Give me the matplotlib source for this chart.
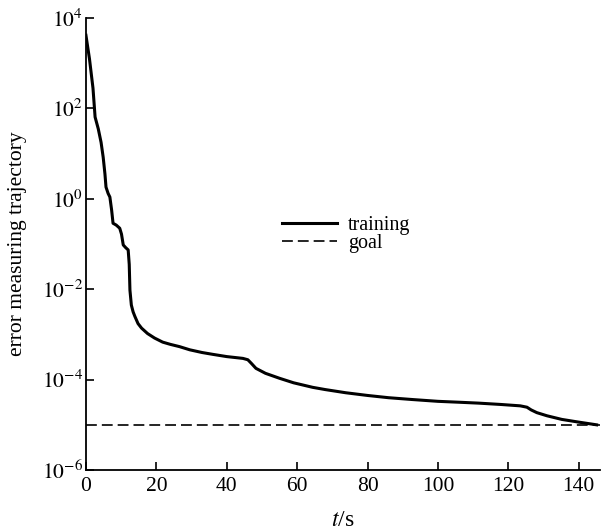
import matplotlib
matplotlib.use("Agg")
import matplotlib.pyplot as plt
import numpy as np

t = [0.0, 1.0, 2.0, 2.6, 3.5, 4.3, 4.9, 5.4, 5.7, 6.3, 6.8, 7.3, 7.7, 8.6, 9.6, 10.1, 10.6, 11.3, 12.0,
     12.3, 12.5, 12.9, 13.4, 13.9, 14.8, 15.8, 17.5, 19.5, 21.8, 24.0, 26.6, 29.5, 33.0, 36.0, 40.0, 44.6,
     46.0, 47.0, 48.3, 51.0, 55.0, 59.0, 64.4, 68.0, 73.8, 80.0, 86.0, 92.7, 100.0, 106.0, 111.6, 118.0,
     123.4, 125.3, 126.5, 128.1, 131.0, 135.2, 140.0, 145.1]
log_err = [3.62, 3.1, 2.45, 1.81, 1.55, 1.25, 0.92, 0.55, 0.26, 0.12, 0.04, -0.25, -0.54, -0.58, -0.65, -0.78, -1.02, -1.08, -1.13,
           -1.45, -2.02, -2.35, -2.5, -2.6, -2.76, -2.86, -2.98, -3.08, -3.17, -3.22, -3.27, -3.34, -3.40, -3.44, -3.49, -3.53,
           -3.56, -3.64, -3.75, -3.86, -3.97, -4.07, -4.17, -4.22, -4.29, -4.35, -4.40, -4.44, -4.48, -4.50, -4.52, -4.55,
           -4.58, -4.61, -4.67, -4.73, -4.80, -4.88, -4.94, -5.0]
goal = 1e-5
xticks = [0, 20, 40, 60, 80, 100, 120, 140]
yticks_exp = [-6, -4, -2, 0, 2, 4]

plt.rcParams['font.family'] = ['Liberation Serif', 'DejaVu Serif']
plt.rcParams['mathtext.fontset'] = 'stix'

fig = plt.figure(figsize=(6.01, 5.32), dpi=100)
ax = fig.add_axes([0.143, 0.1165, 0.855, 0.8495])

err = 10 ** np.array(log_err)
ax.plot(t, err, color='black', lw=2.2, label='training')
ax.axhline(goal, color='black', lw=1.2, ls=(0, (6.5, 3)), label='goal')

ax.set_yscale('log')
ax.set_xlim(0, 146)
ax.set_ylim(1e-6, 1e4)
ax.set_xticks(xticks)
ax.set_xticklabels([str(v) for v in xticks])
ax.set_yticks([10.0 ** e for e in yticks_exp])
ax.set_yticklabels([r'$10^{%d}$' % e for e in yticks_exp])
ax.yaxis.set_minor_locator(matplotlib.ticker.NullLocator())
ax.tick_params(direction='in', length=6, width=1.2, labelsize=15.5)
ax.tick_params(axis='x', pad=5)
ax.tick_params(axis='y', pad=2)

for s in ['top', 'right']:
    ax.spines[s].set_visible(False)
for s in ['left', 'bottom']:
    ax.spines[s].set_linewidth(1.3)

ax.set_ylabel('error measuring trajectory', fontsize=15.5)
ax.yaxis.set_label_coords(-0.115, 0.5)
ax.set_xlabel(r'$t$/s', fontsize=17, labelpad=10)

ax.legend(loc='upper left', bbox_to_anchor=(0.355, 0.594), frameon=False, fontsize=14.5,
          handlelength=2.7, labelspacing=-0.05, handletextpad=0.55, borderpad=0.2)

fig.savefig('out.png', dpi=100)
